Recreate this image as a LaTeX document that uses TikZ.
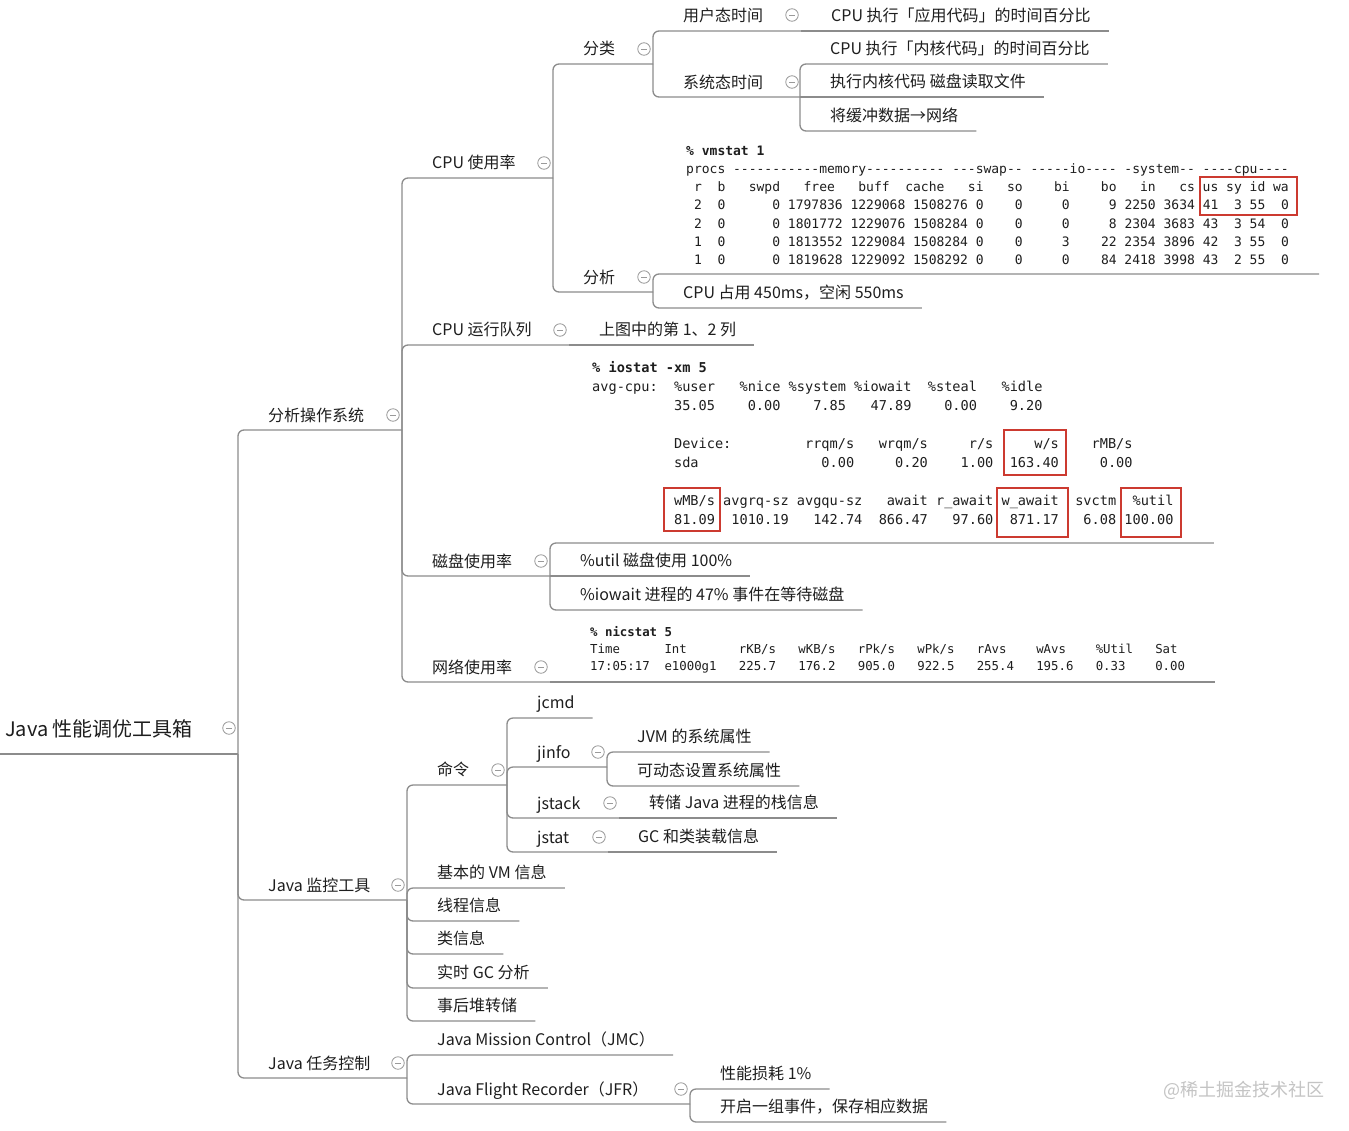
\documentclass[tikz,border=0pt]{standalone}
\usepackage{fontspec}
\setmainfont{Noto Sans CJK SC}
\setmonofont{DejaVu Sans Mono}
\usepackage{tikz}
\usetikzlibrary{positioning}
\definecolor{ink}{HTML}{1E1E1E}
\definecolor{linegray}{HTML}{8C8C8C}
\definecolor{foldgray}{HTML}{9A9A9A}
\definecolor{markred}{HTML}{CC3A30}
\definecolor{wmgray}{HTML}{C4C4C4}
\tikzset{
  item/.style={
    anchor=south west, inner xsep=18pt, inner ysep=5pt,
    text height=14pt, text depth=4pt, text=ink,
    font=\fontsize{16}{19}\selectfont
  },
  rootitem/.style={
    anchor=south west, inner xsep=5pt, inner ysep=12pt,
    text height=17pt, text depth=5pt, text=ink,
    font=\fontsize{20}{24}\selectfont
  },
  fold/.style={
    circle, draw=foldgray, line width=0.8pt, fill=white,
    minimum size=12.5pt, inner sep=0pt,
    path picture={\draw[foldgray, line width=0.8pt]
      ([xshift=-2.6pt]path picture bounding box.center) --
      ([xshift=2.6pt]path picture bounding box.center);}
  },
  branch/.style={
    draw=linegray, line width=1.3pt, rounded corners=6pt
  },
  codeblock/.style={
    anchor=south west, inner xsep=#1, text=ink
  },
  codeblock/.default=30pt,
  hilite/.style={
    draw=markred, line width=2.9pt
  },
  watermark/.style={
    anchor=west, text=wmgray, font=\fontsize{18}{21}\selectfont
  },
}

\begin{document}
\begin{tikzpicture}[x=1pt, y=-1pt]
  \useasboundingbox[fill=white] (0,0) rectangle (1349,1130);

  % root
  \node[rootitem] (root) at (0,754) {Java 性能调优工具箱};
  \coordinate (root-b) at (238,754);
  \draw[branch] (root.south west) -- (root-b);

  % first level
  \node[item] (os) at (250,431) {分析操作系统};
  \node[item] (mon) at (250,901) {Java 监控工具};
  \node[item] (task) at (250,1079) {Java 任务控制};
  \coordinate (os-b) at (402,430);
  \coordinate (mon-b) at (407,900);
  \coordinate (task-b) at (407,1078);
  \draw[branch] (root-b) |- (os-b);
  \draw[branch] (root-b) |- (mon-b);
  \draw[branch] (root-b) |- (task-b);

  % operating system
  \node[item] (cpu) at (414,178) {CPU 使用率};
  \node[item] (runq) at (414,345) {CPU 运行队列};
  \node[item] (disk) at (414,577) {磁盘使用率};
  \node[item] (net) at (414,683) {网络使用率};
  \coordinate (cpu-b) at (553,178);
  \coordinate (runq-b) at (569,345);
  \coordinate (disk-b) at (550,576);
  \coordinate (net-b) at (550,682);
  \draw[branch] (os-b) |- (cpu-b);
  \draw[branch] (os-b) |- (runq-b);
  \draw[branch] (os-b) |- (disk-b);
  \draw[branch] (os-b) |- (net-b);

  % cpu usage
  \node[item] (cls) at (565,64) {分类};
  \node[item] (ana) at (565,293) {分析};
  \coordinate (cls-b) at (653,64);
  \coordinate (ana-b) at (653,292);
  \draw[branch] (cpu-b) |- (cls-b);
  \draw[branch] (cpu-b) |- (ana-b);

  \node[item] (user) at (665,31) {用户态时间};
  \node[item] (sys) at (665,98) {系统态时间};
  \coordinate (user-b) at (801,31);
  \coordinate (sys-b) at (800,97);
  \draw[branch] (cls-b) |- (user-b);
  \draw[branch] (cls-b) |- (sys-b);

  \node[item, right=12pt of user-b, anchor=south west] (appcode)
    {CPU 执行「应用代码」的时间百分比};
  \draw[branch] (user-b) -- (appcode.south east);

  \node[item] (kcode) at (812,64) {CPU 执行「内核代码」的时间百分比};
  \node[item, right=12pt of sys-b, anchor=south west] (kread)
    {执行内核代码 磁盘读取文件};
  \node[item] (kbuf) at (812,131) {将缓冲数据→网络};
  \draw[branch] (sys-b) |- (kcode.south east);
  \draw[branch] (sys-b) -- (kread.south east);
  \draw[branch] (sys-b) |- (kbuf.south east);

  \node[codeblock, inner ysep=4pt,
    font=\ttfamily\fontsize{13}{18.17}\selectfont] (vmstat) at (656,274) {%
    \begin{tabular}{@{}l@{}}
    \textbf{\% vmstat 1}\\
    procs~-----------memory----------~---swap--~-----io----~-system--~----cpu----\\
    ~r~~b~~~swpd~~~free~~~buff~~cache~~~si~~~so~~~~bi~~~~bo~~~in~~~cs~us~sy~id~wa\\
    ~2~~0~~~~~~0~1797836~1229068~1508276~0~~~~0~~~~~0~~~~~9~2250~3634~41~~3~55~~0\\
    ~2~~0~~~~~~0~1801772~1229076~1508284~0~~~~0~~~~~0~~~~~8~2304~3683~43~~3~54~~0\\
    ~1~~0~~~~~~0~1813552~1229084~1508284~0~~~~0~~~~~3~~~~22~2354~3896~42~~3~55~~0\\
    ~1~~0~~~~~~0~1819628~1229092~1508292~0~~~~0~~~~~0~~~~84~2418~3998~43~~2~55~~0
    \end{tabular}};
  \node[item] (occ) at (665,308) {CPU 占用 450ms，空闲 550ms};
  \draw[branch] (ana-b) |- (vmstat.south east);
  \draw[branch] (ana-b) |- (occ.south east);
  \draw[hilite] (1200,177) rectangle (1297,215);

  % run queue
  \node[item, right=12pt of runq-b, anchor=south west] (q12)
    {上图中的第 1、2 列};
  \draw[branch] (runq-b) -- (q12.south east);

  % disk
  \node[codeblock=40pt, inner ysep=12.4pt,
    font=\ttfamily\fontsize{13.6}{19}\selectfont] (iostat) at (552,543) {%
    \begin{tabular}{@{}l@{}}
    \textbf{\% iostat -xm 5}\\
    avg-cpu:~~\%user~~~\%nice~\%system~\%iowait~~\%steal~~~\%idle\\
    ~~~~~~~~~~35.05~~~~0.00~~~~7.85~~~47.89~~~~0.00~~~~9.20\\
    \\
    ~~~~~~~~~~Device:~~~~~~~~~rrqm/s~~~wrqm/s~~~~~r/s~~~~~w/s~~~~rMB/s\\
    ~~~~~~~~~~sda~~~~~~~~~~~~~~~0.00~~~~~0.20~~~~1.00~~163.40~~~~~0.00\\
    \\
    ~~~~~~~~~~wMB/s~avgrq-sz~avgqu-sz~~~await~r\_await~w\_await~~svctm~~\%util\\
    ~~~~~~~~~~81.09~~1010.19~~~142.74~~866.47~~~97.60~~871.17~~~6.08~100.00
    \end{tabular}};
  \node[item, right=12pt of disk-b, anchor=south west] (util)
    {\%util 磁盘使用 100\%};
  \node[item] (iowait) at (562,610) {\%iowait 进程的 47\% 事件在等待磁盘};
  \draw[branch] (disk-b) |- (iostat.south east);
  \draw[branch] (disk-b) -- (util.south east);
  \draw[branch] (disk-b) |- (iowait.south east);
  \draw[hilite] (1004,430) rectangle (1066,475);
  \draw[hilite] (664,488) rectangle (720,531);
  \draw[hilite] (997,488) rectangle (1068,537);
  \draw[hilite] (1121,488) rectangle (1181,537);

  % network
  \node[codeblock, inner ysep=6.4pt,
    font=\ttfamily\fontsize{12.35}{17}\selectfont] (nicstat) at (560,682) {%
    \begin{tabular}{@{}l@{}}
    \textbf{\% nicstat 5}\\
    Time~~~~~~Int~~~~~~~rKB/s~~~wKB/s~~~rPk/s~~~wPk/s~~~rAvs~~~~wAvs~~~~\%Util~~~Sat\\
    17:05:17~~e1000g1~~~225.7~~~176.2~~~905.0~~~922.5~~~255.4~~~195.6~~~0.33~~~~0.00
    \end{tabular}};
  \draw[branch] (net-b) -- (nicstat.south east);

  % java monitoring
  \node[item] (cmd) at (419,785) {命令};
  \node[item] (vm) at (419,888) {基本的 VM 信息};
  \node[item] (thr) at (419,921) {线程信息};
  \node[item] (clsi) at (419,954) {类信息};
  \node[item] (gc) at (419,988) {实时 GC 分析};
  \node[item] (dump) at (419,1021) {事后堆转储};
  \coordinate (cmd-b) at (507,785);
  \draw[branch] (mon-b) |- (cmd-b);
  \draw[branch] (mon-b) |- (vm.south east);
  \draw[branch] (mon-b) |- (thr.south east);
  \draw[branch] (mon-b) |- (clsi.south east);
  \draw[branch] (mon-b) |- (gc.south east);
  \draw[branch] (mon-b) |- (dump.south east);

  \node[item] (jcmd) at (519,718) {jcmd};
  \node[item] (jinfo) at (519,768) {jinfo};
  \node[item] (jstack) at (519,819) {jstack};
  \node[item] (jstat) at (519,853) {jstat};
  \coordinate (jinfo-b) at (607,767);
  \coordinate (jstack-b) at (619,818);
  \coordinate (jstat-b) at (608,852);
  \draw[branch] (cmd-b) |- (jcmd.south east);
  \draw[branch] (cmd-b) |- (jinfo-b);
  \draw[branch] (cmd-b) |- (jstack-b);
  \draw[branch] (cmd-b) |- (jstat-b);

  \node[item] (jvmprop) at (619,752) {JVM 的系统属性};
  \node[item] (dynprop) at (619,786) {可动态设置系统属性};
  \draw[branch] (jinfo-b) |- (jvmprop.south east);
  \draw[branch] (jinfo-b) |- (dynprop.south east);
  \node[item, right=12pt of jstack-b, anchor=south west] (stackdump)
    {转储 Java 进程的栈信息};
  \draw[branch] (jstack-b) -- (stackdump.south east);
  \node[item, right=12pt of jstat-b, anchor=south west] (gcinfo)
    {GC 和类装载信息};
  \draw[branch] (jstat-b) -- (gcinfo.south east);

  % mission control
  \node[item] (jmcn) at (419,1055) {Java Mission Control（JMC）};
  \node[item] (jfr) at (419,1105) {Java Flight Recorder（JFR）};
  \coordinate (jfr-b) at (690,1104);
  \draw[branch] (task-b) |- (jmcn.south east);
  \draw[branch] (task-b) |- (jfr-b);
  \node[item] (cost) at (702,1089) {性能损耗 1\%};
  \node[item] (events) at (702,1122) {开启一组事件，保存相应数据};
  \draw[branch] (jfr-b) |- (cost.south east);
  \draw[branch] (jfr-b) |- (events.south east);

  % fold marks
  \node[fold] (root-f) at ([xshift=-9pt,yshift=26pt]root-b) {};
  \node[fold] (os-f) at ([xshift=-9pt,yshift=15pt]os-b) {};
  \node[fold] (mon-f) at ([xshift=-9pt,yshift=15pt]mon-b) {};
  \node[fold] (task-f) at ([xshift=-9pt,yshift=15pt]task-b) {};
  \node[fold] (cpu-f) at ([xshift=-9pt,yshift=15pt]cpu-b) {};
  \node[fold] (runq-f) at ([xshift=-9pt,yshift=15pt]runq-b) {};
  \node[fold] (disk-f) at ([xshift=-9pt,yshift=15pt]disk-b) {};
  \node[fold] (net-f) at ([xshift=-9pt,yshift=15pt]net-b) {};
  \node[fold] (cls-f) at ([xshift=-9pt,yshift=15pt]cls-b) {};
  \node[fold] (ana-f) at ([xshift=-9pt,yshift=15pt]ana-b) {};
  \node[fold] (user-f) at ([xshift=-9pt,yshift=16pt]user-b) {};
  \node[fold] (sys-f) at ([xshift=-8pt,yshift=15pt]sys-b) {};
  \node[fold] (cmd-f) at ([xshift=-9pt,yshift=15pt]cmd-b) {};
  \node[fold] (jinfo-f) at ([xshift=-9pt,yshift=15pt]jinfo-b) {};
  \node[fold] (jstack-f) at ([xshift=-9pt,yshift=15pt]jstack-b) {};
  \node[fold] (jstat-f) at ([xshift=-9pt,yshift=15pt]jstat-b) {};
  \node[fold] (jfr-f) at ([xshift=-9pt,yshift=15pt]jfr-b) {};

  \node[watermark] (wm) at (1160,1090) {@稀土掘金技术社区};
\end{tikzpicture}
\end{document}
